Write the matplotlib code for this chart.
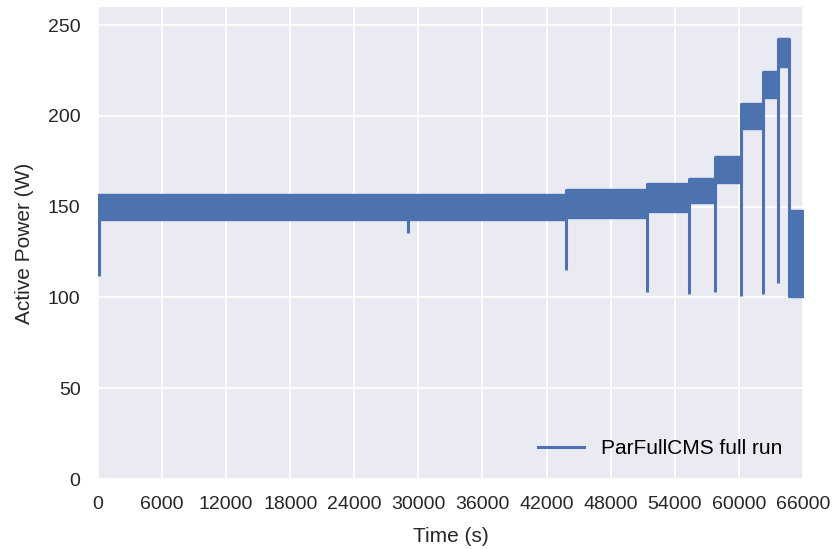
import matplotlib
matplotlib.use("Agg")
import matplotlib.pyplot as plt
from matplotlib.lines import Line2D

# Envelope of the (dense, noisy) power trace
# each segment starts at seg_start and lasts until the next one (or t_end)
seg_start = [0, 43850, 51400, 55380, 57770, 60170, 62230, 63650, 64700]
seg_low   = [142.8, 144, 147, 152, 163, 193, 210, 227, 100]
seg_high  = [157, 159.5, 163, 166, 178, 207, 225, 243, 148]
t_end = 66000

# Short dips below the band (time, minimum power)
dip_time  = [100, 29050, 43850, 51400, 55380, 57770, 60170, 62230, 63650]
dip_value = [112, 135.5, 115, 103, 102, 103, 101, 102, 108]

xticks = [0, 6000, 12000, 18000, 24000, 30000, 36000, 42000, 48000, 54000, 60000, 66000]
yticks = [0, 50, 100, 150, 200, 250]

color = "#4C72B0"
plt.rcParams['font.family'] = ['Liberation Sans', 'DejaVu Sans']

fig = plt.figure(figsize=(8.33, 5.49), dpi=100)
ax = fig.add_axes([0.1176, 0.1275, 0.8463, 0.8597])
ax.set_facecolor("#EAEAF2")
for s in ax.spines.values():
    s.set_visible(False)
ax.grid(True, color="white", linewidth=1.3)
ax.set_axisbelow(True)

# band
t_band = seg_start + [t_end]
low_band = seg_low + [seg_low[-1]]
high_band = seg_high + [seg_high[-1]]
ax.fill_between(t_band, low_band, high_band, step="post", color=color,
                edgecolor=color, linewidth=1.0)

# connectors between consecutive band levels
for i in range(1, len(seg_start)):
    lo = min(seg_low[i - 1], seg_low[i])
    hi = max(seg_high[i - 1], seg_high[i])
    ax.vlines(seg_start[i], lo, hi, color=color, linewidth=2.2)

# dips
def band_low(t):
    idx = 0
    for i, s in enumerate(seg_start):
        if s <= t:
            idx = i
    return max(seg_low[idx], seg_low[idx - 1] if idx > 0 else seg_low[idx])

ax.vlines(dip_time, dip_value, [band_low(t) for t in dip_time], color=color, linewidth=2.2)

ax.set_xlim(0, 66000)
ax.set_ylim(0, 260)
ax.set_xticks(xticks)
ax.set_yticks(yticks)
ax.tick_params(axis="both", length=0, labelsize=14, colors="#262626", pad=12.5)
ax.set_xlabel("Time (s)", fontsize=15, color="#262626", labelpad=10)
ax.set_ylabel("Active Power (W)", fontsize=15, color="#262626", labelpad=10)

handle = Line2D([], [], color=color, linewidth=2.2)
ax.legend([handle], ["ParFullCMS full run"], loc="lower right", frameon=False,
          fontsize=15, handlelength=2.2, borderaxespad=0.6)

fig.savefig("out.png", dpi=100)
